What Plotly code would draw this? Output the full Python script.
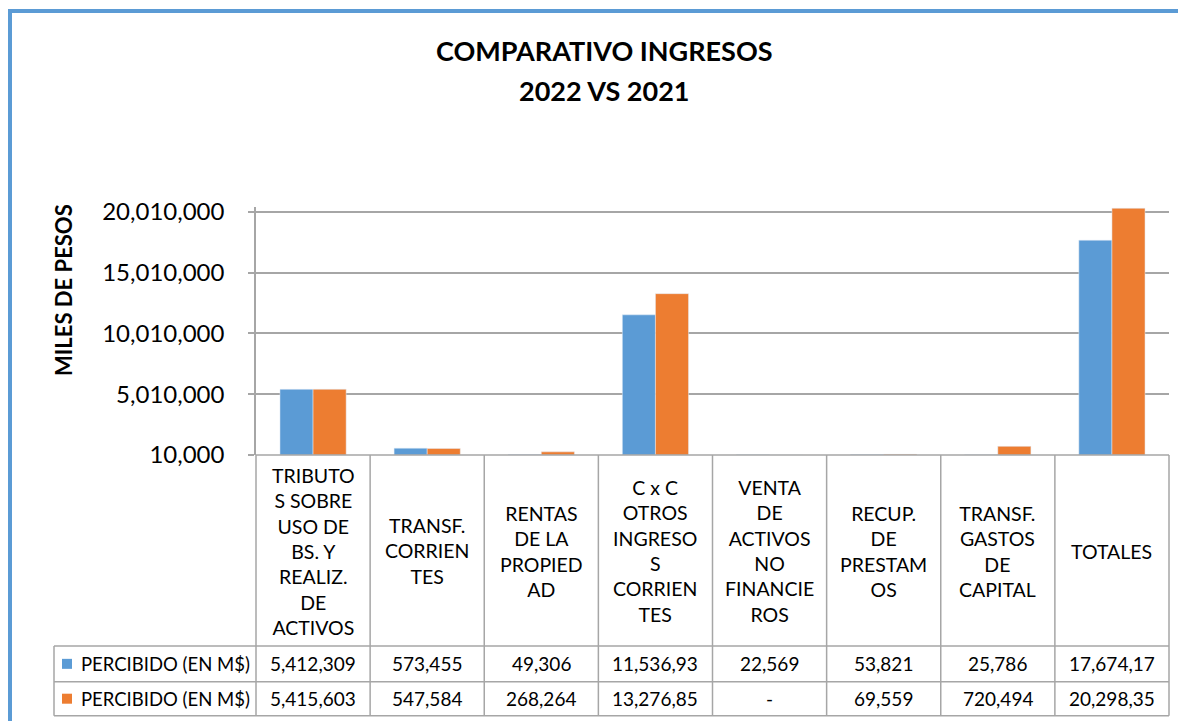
import plotly.graph_objects as go

# datos
categorias = [
    "TRIBUTO<br>S SOBRE<br>USO DE<br>BS. Y<br>REALIZ.<br>DE<br>ACTIVOS",
    "TRANSF.<br>CORRIEN<br>TES",
    "RENTAS<br>DE LA<br>PROPIED<br>AD",
    "C x C<br>OTROS<br>INGRESO<br>S<br>CORRIEN<br>TES",
    "VENTA<br>DE<br>ACTIVOS<br>NO<br>FINANCIE<br>ROS",
    "RECUP.<br>DE<br>PRESTAM<br>OS",
    "TRANSF.<br>GASTOS<br>DE<br>CAPITAL",
    "TOTALES",
]
serie_1 = [5412309, 573455, 49306, 11536930, 22569, 53821, 25786, 17674176]
serie_2 = [5415603, 547584, 268264, 13276850, 0, 69559, 720494, 20298354]
nombre_serie = "PERCIBIDO (EN M$)"
tick_vals = [10000, 5010000, 10010000, 15010000, 20010000]

AZUL = "#5B9BD5"
NARANJA = "#ED7D31"
GRIS = "#A6A6A6"
FUENTE = "Lato"

# la pagina tiene 8px de margen en el body
OFF = 8
FIG_W, FIG_H = 1186 - OFF, 721 - OFF

# area de trazado en pixeles de la ventana
L, R, T, B = 256, 1169, 207, 455
ANCHO, ALTO = R - L, B - T


def px_x(p):
    return (p - L) / ANCHO


def px_y(p):
    return (B - p) / ALTO


def celda(v):
    # Excel recorta el texto que no cabe en la celda
    if v == 0:
        return "-"
    return f"{v:,}"[:9]


x_idx = list(range(len(categorias)))

fig = go.Figure()
fig.add_trace(go.Bar(x=x_idx, y=serie_1, name=nombre_serie, marker_color=AZUL))
fig.add_trace(go.Bar(x=x_idx, y=serie_2, name=nombre_serie, marker_color=NARANJA))

shapes = []
linea = dict(color=GRIS, width=1.5)

# tabla de datos
fila_top, fila_1, fila_2, fila_fin = 455, 646, 681.7, 715.7
shapes.append(dict(type="line", xref="paper", yref="paper",
                   x0=0, x1=1, y0=px_y(fila_top), y1=px_y(fila_top), line=linea))
for yy in (fila_1, fila_2, fila_fin):
    shapes.append(dict(type="line", xref="paper", yref="paper",
                       x0=px_x(54), x1=1, y0=px_y(yy), y1=px_y(yy), line=linea))
n = len(categorias)
for i in range(n + 1):
    shapes.append(dict(type="line", xref="paper", yref="paper",
                       x0=i / n, x1=i / n, y0=px_y(fila_top), y1=px_y(fila_fin), line=linea))
shapes.append(dict(type="line", xref="paper", yref="paper",
                   x0=px_x(54), x1=px_x(54), y0=px_y(fila_1), y1=px_y(fila_fin), line=linea))

# marco azul del grafico
shapes.append(dict(type="line", xref="paper", yref="paper",
                   x0=px_x(9), x1=px_x(9), y0=px_y(9), y1=px_y(740),
                   line=dict(color=AZUL, width=6)))
shapes.append(dict(type="line", xref="paper", yref="paper",
                   x0=px_x(6), x1=px_x(1200), y0=px_y(11), y1=px_y(11),
                   line=dict(color=AZUL, width=4)))

annotations = []
for i, cat in enumerate(categorias):
    annotations.append(dict(x=i, xref="x", y=px_y(551), yref="paper", text=cat,
                            showarrow=False, align="center", yanchor="middle",
                            font=dict(family=FUENTE, size=19.5, color="#000000")))

filas = [(serie_1, AZUL, (fila_1 + fila_2) / 2), (serie_2, NARANJA, (fila_2 + fila_fin) / 2)]
for valores, color, yc in filas:
    shapes.append(dict(type="rect", xref="paper", yref="paper",
                       x0=px_x(62), x1=px_x(72), y0=px_y(yc - 5), y1=px_y(yc + 5),
                       fillcolor=color, line=dict(width=0)))
    annotations.append(dict(x=px_x(79), xref="paper", y=px_y(yc), yref="paper",
                            text=nombre_serie, showarrow=False, xanchor="left",
                            yanchor="middle", font=dict(family=FUENTE, size=18.5, color="#000000")))
    for i, v in enumerate(valores):
        annotations.append(dict(x=i, xref="x", y=px_y(yc), yref="paper", text=celda(v),
                                showarrow=False, yanchor="middle",
                                font=dict(family=FUENTE, size=19, color="#000000")))

# titulos
annotations.append(dict(x=px_x(604), xref="paper", y=px_y(50), yref="paper",
                        text="<b>COMPARATIVO INGRESOS</b>", showarrow=False, yanchor="middle",
                        font=dict(family=FUENTE, size=27, color="#000000")))
annotations.append(dict(x=px_x(604), xref="paper", y=px_y(90), yref="paper",
                        text="<b>2022 VS 2021</b>", showarrow=False, yanchor="middle",
                        font=dict(family=FUENTE, size=27, color="#000000")))
annotations.append(dict(x=px_x(63), xref="paper", y=px_y(290), yref="paper",
                        text="<b>MILES DE PESOS</b>", showarrow=False, textangle=-90,
                        xanchor="center", yanchor="middle",
                        font=dict(family=FUENTE, size=22, color="#000000")))

fig.update_layout(
    width=FIG_W, height=FIG_H,
    margin=dict(l=L - OFF, r=1186 - R, t=T - OFF, b=721 - B, pad=0),
    paper_bgcolor="white", plot_bgcolor="white",
    barmode="group", bargap=0.42, bargroupgap=0,
    showlegend=False,
    shapes=shapes, annotations=annotations,
    xaxis=dict(type="linear", range=[-0.5, n - 0.5], showticklabels=False,
               showgrid=False, zeroline=False, showline=False, ticks=""),
    yaxis=dict(range=[10000, 20404000], tickvals=tick_vals, tickformat=",",
               showgrid=True, gridcolor=GRIS, gridwidth=1.5, zeroline=False,
               showline=True, linecolor=GRIS, linewidth=1.5,
               ticks="outside", ticklen=6, tickcolor=GRIS, tickwidth=1.5,
               ticklabelstandoff=19,
               tickfont=dict(family=FUENTE, size=24, color="#000000")),
)

fig.write_html("out.html")
